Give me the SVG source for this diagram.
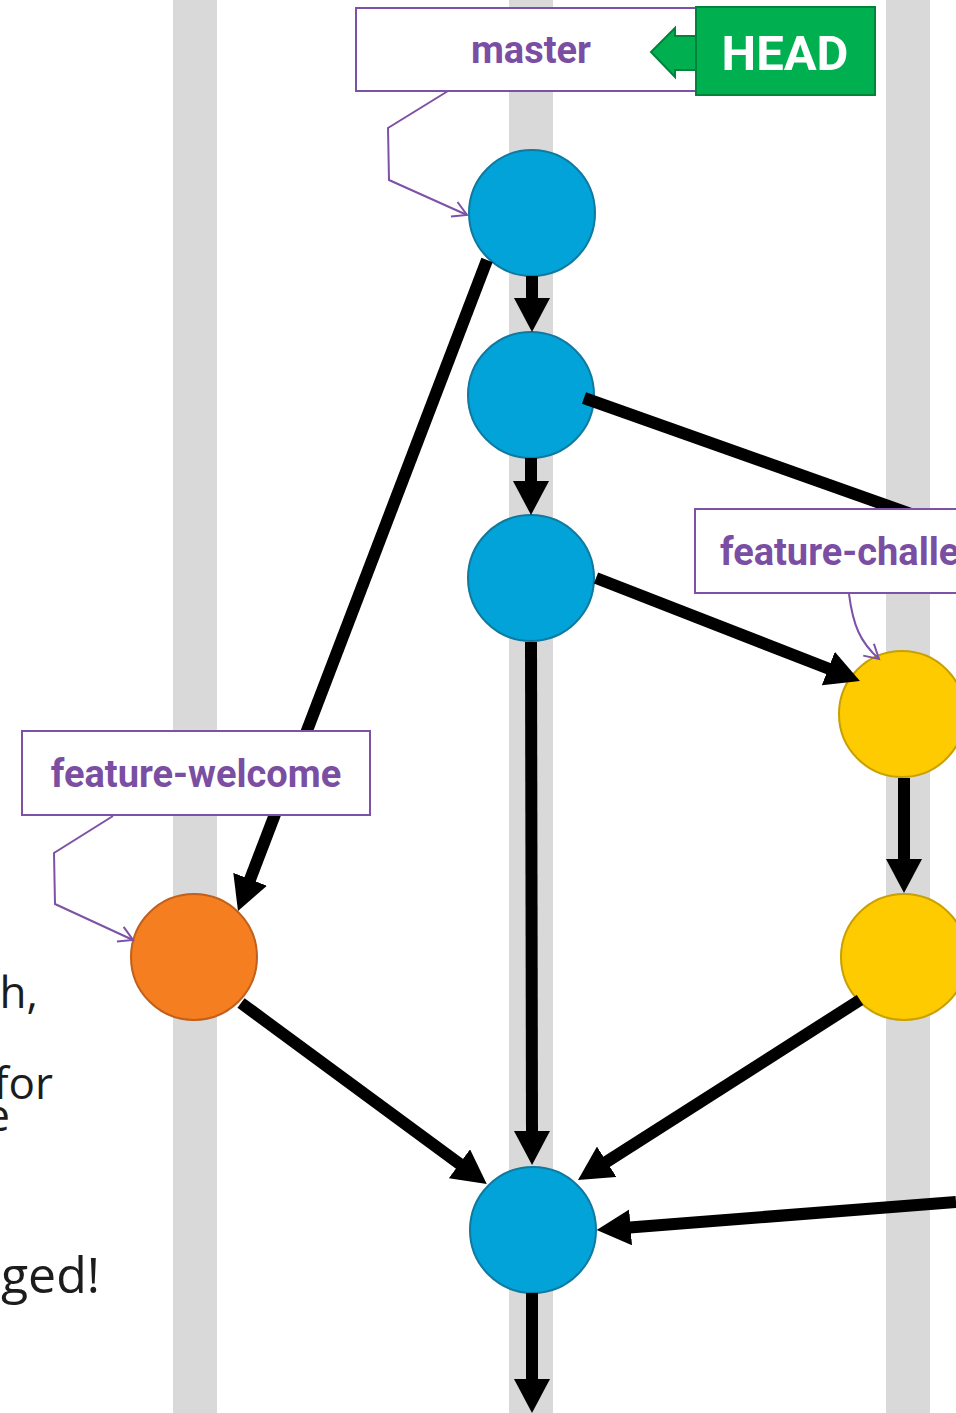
<svg xmlns="http://www.w3.org/2000/svg" width="956" height="1413" viewBox="0 0 956 1413">
  <defs>
    <style>
      .lane { fill: #d9d9d9; }
      .commit { stroke-width: 2; }
      .main { fill: #02a3d8; stroke: #10799f; }
      .welcome { fill: #f47e20; stroke: #c0601c; }
      .challenge { fill: #fecb00; stroke: #c8a000; }
      .edge { fill: none; stroke: #000; stroke-width: 12; }
      .edge-arrow { marker-end: url(#arrow); }
      .label-box { fill: #fff; stroke: #7d52a6; stroke-width: 2; }
      .label-text { font-family: Roboto, "Liberation Sans", sans-serif; font-weight: 700; font-size: 38px; fill: #7a4ea2; }
      .pointer { fill: none; stroke: #7d52a6; stroke-width: 2; marker-end: url(#pointer-head); }
      .prose { font-family: "Open Sans", "Noto Sans", sans-serif; font-size: 44px; fill: #1c1c1c; text-anchor: end; }
      .prose-big { font-size: 50px; }
    </style>
    <marker id="arrow" markerUnits="userSpaceOnUse" viewBox="0 0 36 36" markerWidth="36" markerHeight="36" refX="4" refY="18" orient="auto">
      <path d="M0,0 L34,18 L0,36 Z" fill="#000"/>
    </marker>
    <marker id="pointer-head" markerUnits="userSpaceOnUse" viewBox="0 0 18 18" markerWidth="18" markerHeight="18" refX="16" refY="9" orient="auto" overflow="visible">
      <path d="M2,1 L16,9 L2,17" fill="none" stroke="#7d52a6" stroke-width="2"/>
    </marker>
  </defs>

  <rect width="956" height="1413" fill="#fff"/>

  <!-- branch lanes -->
  <g id="lanes">
    <rect class="lane" x="173" y="0" width="44" height="1413"/>
    <rect class="lane" x="509" y="0" width="44" height="1413"/>
    <rect class="lane" x="886" y="0" width="44" height="1413"/>
  </g>

  <!-- partially visible prose on the left -->
  <g id="prose">
    <text class="prose" x="38" y="1008">ch,</text>
    <text class="prose" x="53" y="1099">for</text>
    <text class="prose" x="10" y="1131">e</text>
    <text class="prose prose-big" x="100" y="1293">ged!</text>
  </g>

  <!-- commits -->
  <g id="c1"><circle class="commit main" cx="532" cy="213" r="63"/></g>
  <g id="c2"><circle class="commit main" cx="531" cy="395" r="63"/></g>
  <g id="c3"><circle class="commit main" cx="531" cy="578" r="63"/></g>
  <g id="w1"><circle class="commit welcome" cx="194" cy="957" r="63"/></g>
  <g id="ch1"><circle class="commit challenge" cx="902" cy="714" r="63"/></g>
  <g id="ch2"><circle class="commit challenge" cx="904" cy="957" r="63"/></g>
  <g id="merge"><circle class="commit main" cx="533" cy="1230" r="63"/></g>

  <!-- history edges -->
  <g id="connectors">
    <path class="edge edge-arrow" d="M532,276 L532,302"/>
    <path class="edge edge-arrow" d="M531,458 L531,485"/>
    <path class="edge edge-arrow" d="M487,260 L248.7,883"/>
    <path class="edge" d="M584,398 L956,530"/>
    <path class="edge edge-arrow" d="M596,578 L832,670"/>
    <path class="edge edge-arrow" d="M904,778 L904,863"/>
    <path class="edge edge-arrow" d="M531,642 L532,1135"/>
    <path class="edge edge-arrow" d="M241,1003 L462.6,1166.2"/>
    <path class="edge edge-arrow" d="M860,1000 L603.3,1163.9"/>
    <path class="edge edge-arrow" d="M956,1202 L626.6,1227.7"/>
    <path class="edge edge-arrow" d="M532,1293 L532,1383"/>
  </g>

  <!-- branch labels -->
  <g id="label-master">
    <rect class="label-box" x="356" y="8" width="344" height="83"/>
    <text class="label-text" x="531" y="63" text-anchor="middle">master</text>
    <path class="pointer" d="M448,91 L388,128 L389,180 L467,215"/>
  </g>

  <g id="label-head">
    <polygon points="697,36 675,36 675,28 651,52 675,77 675,70 697,70" fill="#00b050" stroke="#00843a" stroke-width="2"/>
    <rect x="696" y="7" width="179" height="88" fill="#00b050" stroke="#00843a" stroke-width="2"/>
    <text x="785" y="70" text-anchor="middle" font-family="Roboto, 'Liberation Sans', sans-serif" font-weight="700" font-size="49" fill="#fff">HEAD</text>
  </g>

  <g id="label-feature-welcome">
    <rect class="label-box" x="22" y="731" width="348" height="84"/>
    <text class="label-text" x="196" y="787" text-anchor="middle">feature-welcome</text>
    <path class="pointer" d="M113,816 L54,853 L55,904 L133,940"/>
  </g>

  <g id="label-feature-challenge">
    <rect class="label-box" x="695" y="509" width="300" height="84"/>
    <text class="label-text" x="720" y="565">feature-challenge</text>
    <path class="pointer" d="M849,594 C853,625 860,642 879,659"/>
  </g>
</svg>
